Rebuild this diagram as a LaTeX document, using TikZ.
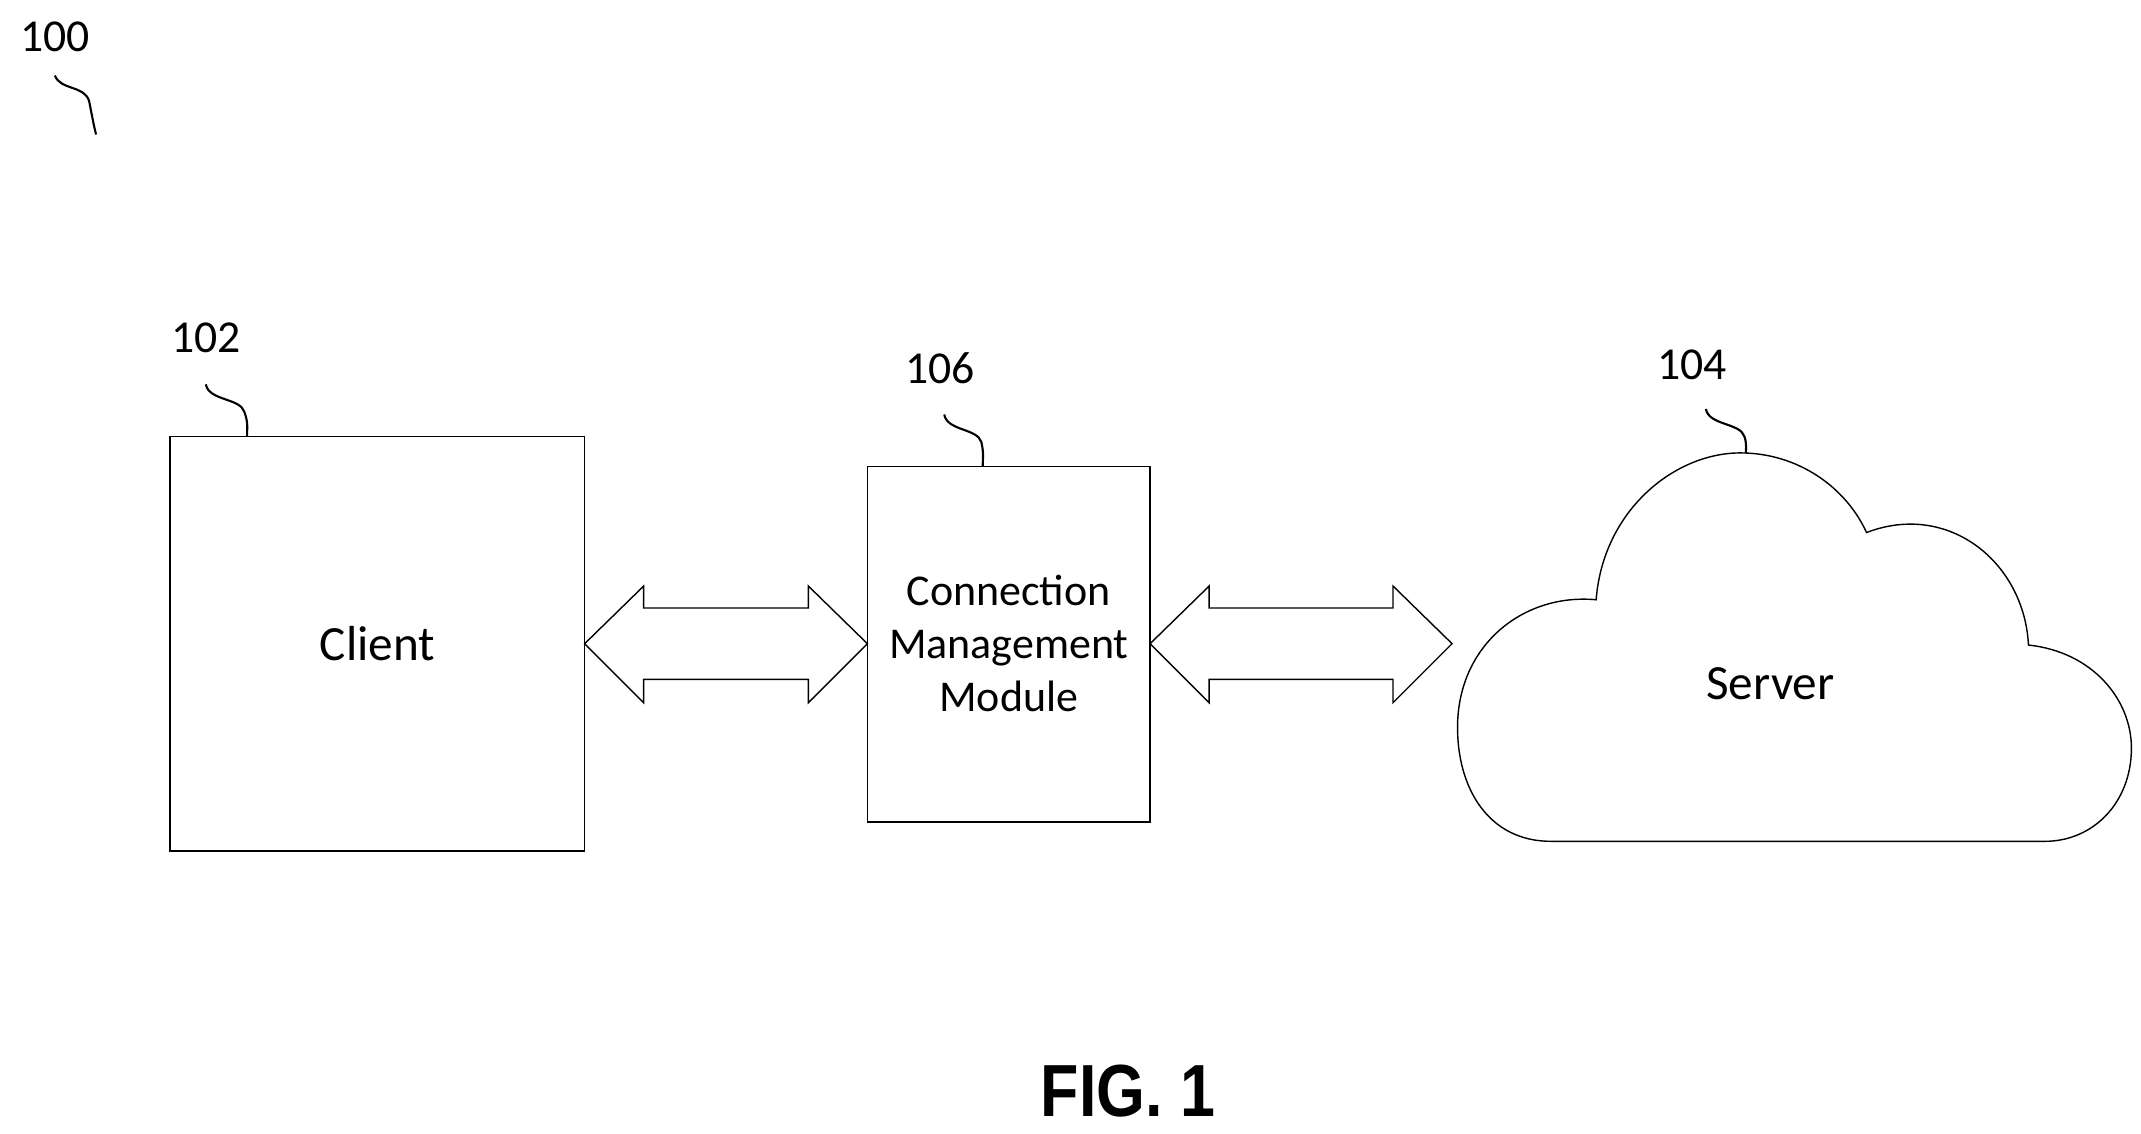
\documentclass[tikz,border=0pt]{standalone}
\usepackage{fontspec}
\setmainfont{Carlito}
\newfontfamily\figfont{Liberation Sans}[FakeStretch=0.85]
\usetikzlibrary{calc}
\begin{document}
\begin{tikzpicture}[x=0.013724cm, y=-0.013724cm,
    refnum/.style={font=\fontsize{13}{15}\selectfont},
    squig/.style={line width=0.6pt}]
  \useasboundingbox (0,0) rectangle (1560,826);

  % Blocks
  \coordinate (cl-nw) at (124,318); \coordinate (cl-se) at (426,620);
  \draw[thin] (cl-nw) rectangle (cl-se);
  \node[font=\fontsize{14}{16}\selectfont] (client) at (275,469) {Client};
  \coordinate (cm-nw) at (632,340); \coordinate (cm-se) at (838,599);
  \draw[thin] (cm-nw) rectangle (cm-se);
  \node[align=center, font=\fontsize{12.5}{15}\selectfont] (cmm) at (735,469) {Connection\\Management\\Module};

  % Cloud (server)
  \draw[thin] (1130,613) .. controls (1085,613) and (1062,575) .. (1062,530)
    .. controls (1062,470) and (1110,432) .. (1163,437)
    .. controls (1168,372) and (1220,330) .. (1268,330)
    .. controls (1310,330) and (1345,355) .. (1360,388)
    .. controls (1420,365) and (1475,410) .. (1478,470)
    .. controls (1525,475) and (1553,510) .. (1553,545)
    .. controls (1553,585) and (1525,613) .. (1490,613) -- cycle;
  \node[font=\fontsize{14}{16}\selectfont] (server) at (1290,498) {Server};

  % Double arrows
  \foreach \a/\b in {426/632, 838/1058} {
    \draw[thin] (\a,469) -- (\a+43,427) -- (\a+43,443) -- (\b-43,443) -- (\b-43,427)
      -- (\b,469) -- (\b-43,512) -- (\b-43,495) -- (\a+43,495) -- (\a+43,512) -- cycle;
  }

  % Reference numerals
  \node[refnum] (n100) at (40,27) {100};
  \draw[squig] (40,55) .. controls (44,66) and (62,62) .. (65,74) .. controls (67,84) and (68,90) .. (70,98);
  \node[refnum] (n102) at (150,246) {102};
  \draw[squig] (150,280) .. controls (152,292) and (175,290) .. (178,300) .. controls (181,308) and (180,312) .. (180,318);
  \node[refnum] (n106) at (685,268) {106};
  \draw[squig] (688,302) .. controls (690,314) and (712,312) .. (715,322) .. controls (717,330) and (716,335) .. (716,340);
  \node[refnum] (n104) at (1233,266) {104};
  \draw[squig] (1243,298) .. controls (1245,310) and (1268,308) .. (1271,318) .. controls (1273,324) and (1272,328) .. (1272,330);

  % Figure label
  \node[font=\figfont\bfseries\fontsize{21}{24}\selectfont] (fig) at (822,795) {FIG. 1};
\end{tikzpicture}
\end{document}
